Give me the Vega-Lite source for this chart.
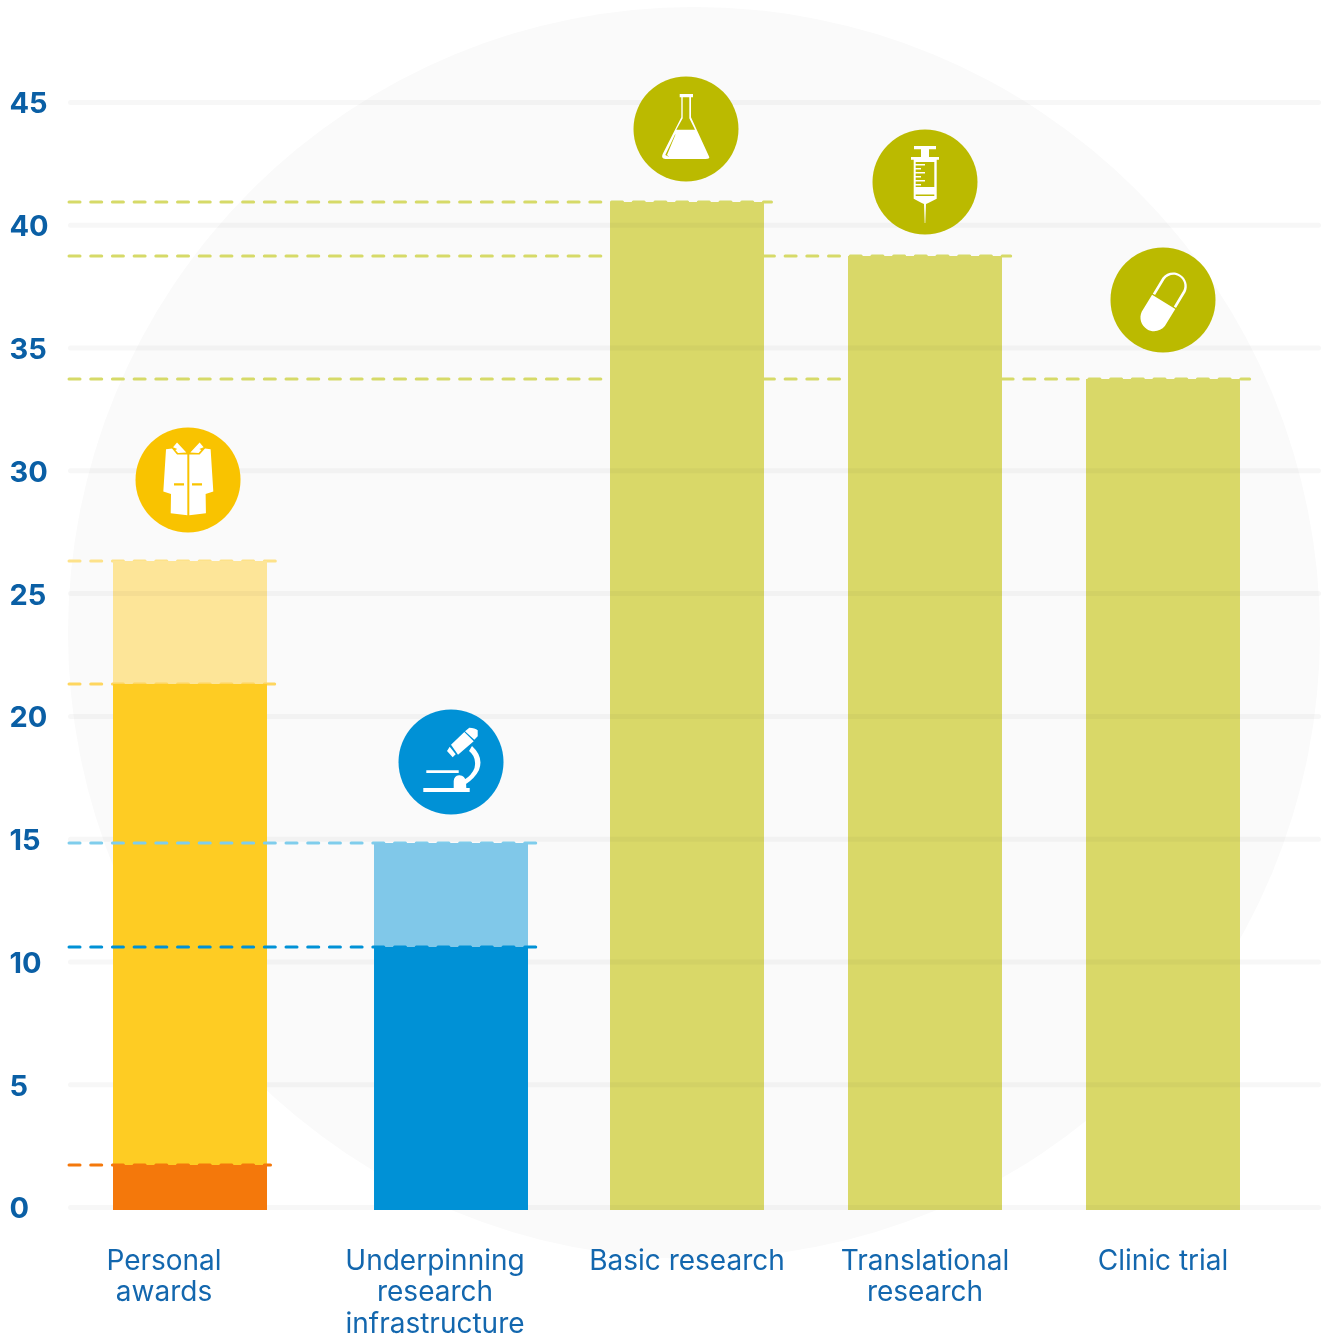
{
"$schema":"https://vega.github.io/schema/vega-lite/v6.json",
"width":1327,"height":1336,"padding":0,"autosize":"none","background":"#ffffff",
"config":{"view":{"stroke":null}},
"datasets":{
"backdrop":[{"slot":2.0294,"value":23.4}],
"ticks":[{"value":0,"from":-0.5903,"to":4.6534},{"value":5,"from":-0.5903,"to":4.6534},{"value":10,"from":-0.5903,"to":4.6534},{"value":15,"from":-0.5903,"to":4.6534},{"value":20,"from":-0.5903,"to":4.6534},{"value":25,"from":-0.5903,"to":4.6534},{"value":30,"from":-0.5903,"to":4.6534},{"value":35,"from":-0.5903,"to":4.6534},{"value":40,"from":-0.5903,"to":4.6534},{"value":45,"from":-0.5903,"to":4.6534}],
"bars":[
{"category":"Basic research","tier":1,"tone":"olive","start":-0.1,"end":40.95,"from":1.6765,"to":2.3235},
{"category":"Translational research","tier":1,"tone":"olive","start":-0.1,"end":38.75,"from":2.6765,"to":3.3235},
{"category":"Clinic trial","tier":1,"tone":"olive","start":-0.1,"end":33.74,"from":3.6765,"to":4.3235},
{"category":"Personal awards","tier":1,"tone":"paleYellow","start":21.32,"end":26.33,"from":-0.4118,"to":0.2353},
{"category":"Personal awards","tier":2,"tone":"yellow","start":1.73,"end":21.32,"from":-0.4118,"to":0.2353},
{"category":"Personal awards","tier":3,"tone":"orange","start":-0.1,"end":1.73,"from":-0.4118,"to":0.2353},
{"category":"Underpinning research infrastructure","tier":3,"tone":"paleBlue","start":10.61,"end":14.84,"from":0.6849,"to":1.3319},
{"category":"Underpinning research infrastructure","tier":4,"tone":"blue","start":-0.1,"end":10.61,"from":0.6849,"to":1.3319}],
"rules":[
{"tier":1,"tone":"oliveRule","value":40.95,"from":-0.5966,"to":2.355},
{"tier":1,"tone":"oliveRule","value":38.75,"from":-0.5966,"to":3.36},
{"tier":1,"tone":"oliveRule","value":33.74,"from":-0.5966,"to":4.364},
{"tier":1,"tone":"paleYellowRule","value":26.33,"from":-0.5966,"to":0.2715},
{"tier":2,"tone":"yellowRule","value":21.32,"from":-0.5966,"to":0.2675},
{"tier":3,"tone":"orange","value":1.73,"from":-0.5966,"to":0.25},
{"tier":3,"tone":"paleBlueRule","value":14.84,"from":-0.5966,"to":1.3685},
{"tier":4,"tone":"blue","value":10.61,"from":-0.5966,"to":1.3685}],
"labels":[
{"label":"Personal\nawards","slot":-0.1975,"value":0},
{"label":"Underpinning\nresearch\ninfrastructure","slot":0.9412,"value":0},
{"label":"Basic research","slot":2,"value":0},
{"label":"Translational\nresearch","slot":3,"value":0},
{"label":"Clinic trial","slot":4,"value":0}],
"icons":[
{"category":"Personal awards","slot":-0.0966,"value":29.63,"tone":"iconYellow","glyph":"coat","detail":"coatDetail"},
{"category":"Underpinning research infrastructure","slot":1.0084,"value":18.14,"tone":"blue","glyph":"microscope"},
{"category":"Basic research","slot":1.9958,"value":43.92,"tone":"iconOlive","glyph":"flask","detail":"flaskDetail"},
{"category":"Translational research","slot":3,"value":41.76,"tone":"iconOlive","glyph":"syringe","detail":"syringeDetail"},
{"category":"Clinic trial","slot":4,"value":36.96,"tone":"iconOlive","glyph":"pill"}]
},
"encoding":{
"color":{"field":"tone","type":"nominal","legend":null,"scale":{
"domain":["olive","oliveRule","paleYellow","paleYellowRule","yellow","yellowRule","orange","paleBlue","paleBlueRule","blue","iconYellow","iconOlive"],
"range":["#d9d868","#d6da68","#fde598","#fde28a","#fecc23","#fed65f","#f4780b","#80c8e9","#7fcdec","#0091d6","#f9c300","#bbba00"]}}
},
"layer":[
{"data":{"name":"backdrop"},"mark":{"type":"point","filled":true,"opacity":1,"size":1567504},
"encoding":{"x":{"field":"slot","type":"quantitative","axis":null,"scale":{"domain":[-0.8866,4.6891],"nice":false,"zero":false}},
"y":{"field":"value","type":"quantitative","scale":{"domain":[-5.233,49.173],"nice":false,"zero":false},
"axis":{"values":[0,5,10,15,20,25,30,35,40,45],"title":null,"domain":false,"ticks":false,"grid":false,"offset":-9,"labelPadding":0,"labelAlign":"left","labelBaseline":"middle","labelOffset":1.5,"labelFont":"Inter","labelFontWeight":"bold","labelFontSize":29,"labelColor":"#0a5fa5"}},
"color":{"value":"#fafafa"}}},
{"data":{"name":"rules"},"transform":[{"filter":"datum.tier===1"}],"mark":{"type":"rule","strokeWidth":3,"strokeCap":"round","strokeDash":[11,10.7]},
"encoding":{"x":{"field":"from","type":"quantitative"},"x2":{"field":"to"},"y":{"field":"value","type":"quantitative"}}},
{"data":{"name":"bars"},"transform":[{"filter":"datum.tier===1"}],"mark":{"type":"rect"},
"encoding":{"x":{"field":"from","type":"quantitative"},"x2":{"field":"to"},"y":{"field":"start","type":"quantitative"},"y2":{"field":"end"}}},
{"data":{"name":"ticks"},"mark":{"type":"rule","strokeWidth":5,"strokeCap":"round","blend":"multiply"},
"encoding":{"x":{"field":"from","type":"quantitative"},"x2":{"field":"to"},"y":{"field":"value","type":"quantitative"},"color":{"value":"#f7f7f7"}}},
{"data":{"name":"rules"},"transform":[{"filter":"datum.tier===2"}],"mark":{"type":"rule","strokeWidth":3,"strokeCap":"round","strokeDash":[11,10.7]},
"encoding":{"x":{"field":"from","type":"quantitative"},"x2":{"field":"to"},"y":{"field":"value","type":"quantitative"}}},
{"data":{"name":"bars"},"transform":[{"filter":"datum.tier===2"}],"mark":{"type":"rect"},
"encoding":{"x":{"field":"from","type":"quantitative"},"x2":{"field":"to"},"y":{"field":"start","type":"quantitative"},"y2":{"field":"end"}}},
{"data":{"name":"rules"},"transform":[{"filter":"datum.tier===3"}],"mark":{"type":"rule","strokeWidth":3,"strokeCap":"round","strokeDash":[11,10.7]},
"encoding":{"x":{"field":"from","type":"quantitative"},"x2":{"field":"to"},"y":{"field":"value","type":"quantitative"}}},
{"data":{"name":"bars"},"transform":[{"filter":"datum.tier===3"}],"mark":{"type":"rect"},
"encoding":{"x":{"field":"from","type":"quantitative"},"x2":{"field":"to"},"y":{"field":"start","type":"quantitative"},"y2":{"field":"end"}}},
{"data":{"name":"rules"},"transform":[{"filter":"datum.tier===4"}],"mark":{"type":"rule","strokeWidth":3,"strokeCap":"round","strokeDash":[11,10.7]},
"encoding":{"x":{"field":"from","type":"quantitative"},"x2":{"field":"to"},"y":{"field":"value","type":"quantitative"}}},
{"data":{"name":"bars"},"transform":[{"filter":"datum.tier===4"}],"mark":{"type":"rect"},
"encoding":{"x":{"field":"from","type":"quantitative"},"x2":{"field":"to"},"y":{"field":"start","type":"quantitative"},"y2":{"field":"end"}}},
{"data":{"name":"icons"},"mark":{"type":"point","filled":true,"opacity":1,"size":11025},
"encoding":{"x":{"field":"slot","type":"quantitative"},"y":{"field":"value","type":"quantitative"}}},
{"data":{"name":"icons"},"mark":{"type":"point","filled":true,"opacity":1,"size":4},
"encoding":{"x":{"field":"slot","type":"quantitative"},"y":{"field":"value","type":"quantitative"},"color":{"value":"#ffffff"},
"shape":{"field":"glyph","type":"nominal","legend":null,"scale":{"domain":["coat","microscope","flask","syringe","pill","coatDetail","flaskDetail","syringeDetail"],
"range":[
"M-22,-30.7L-16,-31.5L-11,-25.5L-0.7,-25.3L-0.7,35.3L-17.3,33.3L-17,14L-24.7,11.7ZM22.6,-30.7L17,-31.5L11.6,-25.5L1.3,-25.3L1.3,35.3L17.9,33.3L17.6,14L25.3,11.7ZM-11,-37.3L-1.7,-27.3L-10,-27L-12.7,-30L-10.7,-31L-15,-32.7ZM11.6,-37.3L15.6,-32.7L11.3,-31L13.3,-30L10.6,-27L2.3,-27.3Z",
"M-27.7,26L18.7,26L18.7,30L-27.7,30ZM-24.7,8.3L7.7,8.3L7.7,11L-24.7,11ZM2.7,26L2.7,19Q3,14 8,13.3Q14,13 15,20L15.3,26ZM21,-16Q33,-5 28,8Q24,16 15,22L13,18Q21,13 23.5,6Q26,-5 18,-11ZM0,-17.3L13.3,-30L22.7,-20.7L7,-7.3ZM-1.3,-15.3L-4,-11L1.7,-4.7L4.7,-7.7ZM14,-30.7L18.3,-34.3Q24,-34 26.7,-31.7L26.7,-25.7L23.3,-22.3Z",
"M-6.3,-35L7,-35L7,-31.7L5,-31.7L5,-11.7L22.7,26.7Q25,30 19.3,30L-20.7,30Q-25.3,29.3 -23.3,25L-4.7,-11.7L-4.7,-31.7L-6.3,-31.7Z",
"M-11,-36L11,-36L11,-32.7L4,-32.7L4,-25L14,-25L14,-22.3L11.7,-22.3L11.7,16.7L3.3,21L1,22L0.3,41L-0.3,41L-1,22L-3.3,21L-11.3,16.7L-11.3,-22.3L-14,-22.3L-14,-25L-4,-25L-4,-32.7L-11,-32.7Z",
"M-10.9,-5.1L12.3,9.1L1.9,26.1A13.7,13.7 0 0 1 -21.3,11.9ZM-10.2,-6.2L-0.6,-22.1A13.7,13.7 0 0 1 22.6,-7.9L13,8L10.8,6.7L20.35,-9.3A11,11 0 0 0 1.65,-20.7L-7.9,-4.9Z",
"M-14,3.3L-4,3.3L-4,5.6L-14,5.6ZM4,3.3L14,3.3L14,5.6L4,5.6Z",
"M-3.3,-31.7L3.3,-31.7L3.3,-10.7L9,0.7L-9.7,0.7L-3.3,-10.7ZM-10.7,5L-20.7,26L-16.7,28L-19,26L-10.7,6Z",
"M-9.3,-20L9.3,-20L9.3,5L-9.3,5L-9.3,3.4L-4,3.4L-4,2L-9.3,2L-9.3,-0.6L0,-0.6L0,-2L-9.3,-2L-9.3,-4.6L-4,-4.6L-4,-6L-9.3,-6L-9.3,-8.6L0,-8.6L0,-10L-9.3,-10L-9.3,-12.6L-4,-12.6L-4,-14L-9.3,-14L-9.3,-16.6L0,-16.6L0,-18L-9.3,-18ZM-9.3,12.5L9.3,12.5L9.3,14L-9.3,14Z"
]}}}},
{"data":{"name":"icons"},"transform":[{"filter":"isValid(datum.detail)"}],"mark":{"type":"point","filled":true,"opacity":1,"size":4},
"encoding":{"x":{"field":"slot","type":"quantitative"},"y":{"field":"value","type":"quantitative"},
"shape":{"field":"detail","type":"nominal","legend":null}}},
{"data":{"name":"labels"},"mark":{"type":"text","font":"Inter","fontSize":28,"fontWeight":"normal","align":"center","baseline":"alphabetic","lineBreak":"\n","lineHeight":31.5,"dy":62.5},
"encoding":{"x":{"field":"slot","type":"quantitative"},"y":{"field":"value","type":"quantitative"},"text":{"field":"label"},"color":{"value":"#1367ae"}}}
]
}
